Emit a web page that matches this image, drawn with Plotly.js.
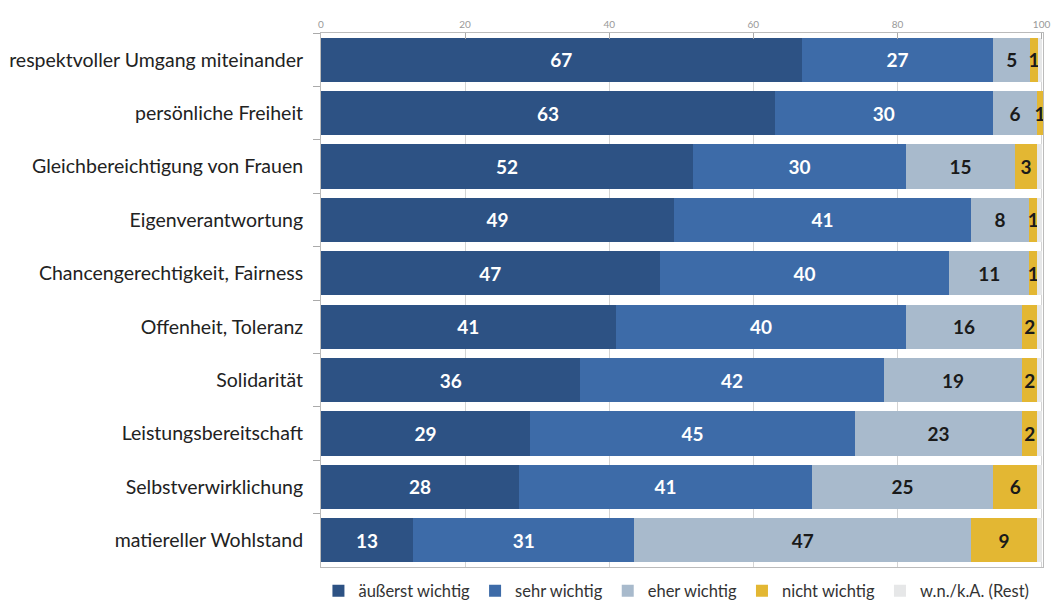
<!DOCTYPE html>
<html>
<head>
<meta charset="utf-8">
<script src="https://cdn.plot.ly/plotly-3.0.1.min.js"></script>
<style>html,body{margin:0;padding:0;background:#fff;}#chart{width:1052px;height:601px;}</style>
</head>
<body>
<div id="chart"></div>
<script>
const categories = [
  "respektvoller Umgang miteinander",
  "persönliche Freiheit",
  "Gleichbereichtigung von Frauen",
  "Eigenverantwortung",
  "Chancengerechtigkeit, Fairness",
  "Offenheit, Toleranz",
  "Solidarität",
  "Leistungsbereitschaft",
  "Selbstverwirklichung",
  "matiereller Wohlstand"
];
const seriesNames = ["äußerst wichtig", "sehr wichtig", "eher wichtig", "nicht wichtig", "w.n./k.A. (Rest)"];
const aeusserstWichtig = [66.7, 63.0, 51.6, 49.0, 47.0, 40.9, 36.0, 29.0, 27.5, 12.8];
const sehrWichtig      = [26.6, 30.2, 29.6, 41.2, 40.2, 40.3, 42.1, 45.1, 40.6, 30.7];
const eherWichtig      = [5.1, 6.2, 15.1, 8.1, 11.1, 16.1, 19.2, 23.2, 25.2, 46.7];
const nichtWichtig     = [1.1, 0.8, 3.1, 1.1, 1.1, 2.1, 2.1, 2.1, 6.1, 9.2];
const rest             = [0.6, 0.0, 0.6, 0.6, 0.6, 0.6, 0.6, 0.6, 0.6, 0.6];
const xTicks = [0, 20, 40, 60, 80, 100];

const colors = ["#2d5284", "#3d6ba8", "#a8bacc", "#e3b733", "#e6e7e8"];
const textColors = ["#ffffff", "#ffffff", "#1a1a1a", "#1a1a1a", "#1a1a1a"];
const values = [aeusserstWichtig, sehrWichtig, eherWichtig, nichtWichtig, rest];

const traces = values.map((v, i) => ({
  type: "bar",
  orientation: "h",
  name: seriesNames[i],
  x: v,
  y: categories,
  marker: {color: colors[i], line: {width: 0}},
  texttemplate: i === 4 ? "" : "%{x:.0f}",
  textposition: "inside",
  insidetextanchor: "middle",
  constraintext: "none",
  insidetextfont: {family: "Lato, sans-serif", size: 19, color: textColors[i], weight: "bold"},
  hoverinfo: "skip"
}));

const layout = {
  width: 1052,
  height: 601,
  margin: {l: 321, r: 9, t: 33, b: 34},
  barmode: "stack",
  bargap: 0.17,
  paper_bgcolor: "#ffffff",
  plot_bgcolor: "#ffffff",
  font: {family: "Lato, sans-serif", color: "#222"},
  xaxis: {
    side: "top",
    range: [0, 100.2],
    tickvals: xTicks,
    ticktext: xTicks.map(String),
    tickfont: {family: "Lato, sans-serif", size: 10, color: "#999"},
    ticks: "inside",
    ticklen: 6,
    tickcolor: "#aaa",
    showgrid: true,
    gridcolor: "#d4d4d4",
    gridwidth: 1,
    showline: true,
    linecolor: "#bbb",
    linewidth: 1,
    mirror: true,
    zeroline: false,
    fixedrange: true,
    automargin: false
  },
  yaxis: {
    type: "category",
    autorange: "reversed",
    tickson: "boundaries",
    ticks: "outside",
    ticklen: 7,
    tickcolor: "#aaa",
    tickfont: {family: "Lato, sans-serif", size: 19.5, color: "#222"},
    ticklabelstandoff: 13,
    showgrid: false,
    showline: true,
    linecolor: "#bbb",
    linewidth: 1,
    mirror: true,
    zeroline: false,
    fixedrange: true,
    automargin: false
  },
  showlegend: true,
  legend: {
    orientation: "h",
    xref: "container",
    yref: "container",
    x: 0.643,
    xanchor: "center",
    y: 0.0166,
    yanchor: "middle",
    font: {family: "Lato, sans-serif", size: 16.5, color: "#333"},
    traceorder: "normal",
    itemwidth: 30,
    tracegroupgap: 0
  }
};

Plotly.newPlot("chart", traces, layout, {displayModeBar: false, staticPlot: true});
</script>
</body>
</html>
